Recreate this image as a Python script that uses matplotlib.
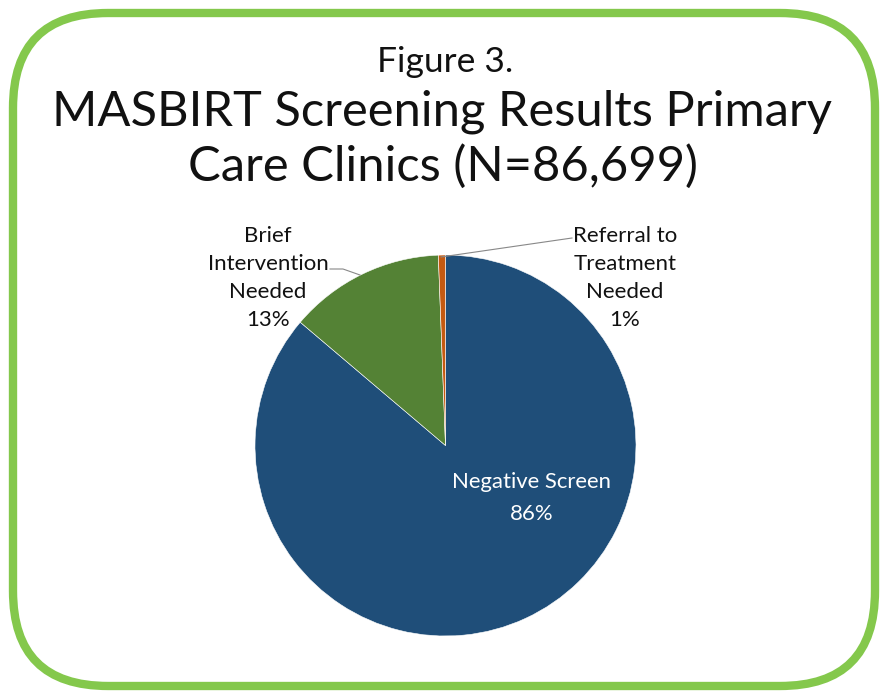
import matplotlib
matplotlib.use("Agg")
import matplotlib.pyplot as plt
from matplotlib.patches import FancyBboxPatch

categories = ["Negative Screen", "Brief\nIntervention\nNeeded", "Referral to\nTreatment\nNeeded"]
values = [86.2, 13.2, 0.6]
pct_labels = ["86%", "13%", "1%"]
colors = ["#1F4E79", "#548235", "#C55A11"]

W, H = 885, 691
fig = plt.figure(figsize=(W / 100, H / 100), dpi=100)
ax = fig.add_axes([0, 0, 1, 1])
font = ["Lato", "DejaVu Sans"]

def py(y):
    return H - y

cx, cy, r = 445.5, py(445.5), 190.5
wedges, _ = ax.pie(values, colors=colors, startangle=90, counterclock=False,
                   center=(cx, cy), radius=r,
                   wedgeprops=dict(linewidth=0.4, edgecolor="white"))

ax.set_xlim(0, W)
ax.set_ylim(0, H)
ax.set_aspect("equal")
ax.axis("off")

# border
border = FancyBboxPatch((13, py(686)), 862, 673,
                        boxstyle="round,pad=0,rounding_size=95",
                        fill=False, edgecolor="#84C84C", linewidth=6,
                        transform=ax.transData, zorder=0)
ax.add_patch(border)

# titles
ax.text(W / 2 + 3, py(62), "Figure 3.", ha="center", va="center",
        fontsize=25.5, family=font, color="#111111")
ax.text(W / 2, py(112), "MASBIRT Screening Results Primary", ha="center",
        va="center", fontsize=35.2, family=font, color="#111111")
ax.text(W / 2, py(166), "Care Clinics (N=86,699)", ha="center",
        va="center", fontsize=35.2, family=font, color="#111111")

# labels
ax.text(532, py(498), f"{categories[0]}\n{pct_labels[0]}", ha="center",
        va="center", fontsize=15.9, family=font, color="white", linespacing=1.72)
ax.text(268, py(278), f"{categories[1]}\n{pct_labels[1]}", ha="center",
        va="center", fontsize=16, family=font, color="#111111", linespacing=1.48)
ax.text(625, py(278), f"{categories[2]}\n{pct_labels[2]}", ha="center",
        va="center", fontsize=16, family=font, color="#111111", linespacing=1.48)

# leader lines
ax.plot([330, 343, 360], [py(269), py(269), py(275)], color="#888888", lw=0.8)
ax.plot([572, 441], [py(238), py(257)], color="#888888", lw=0.8)

fig.savefig("out.png", dpi=100)
